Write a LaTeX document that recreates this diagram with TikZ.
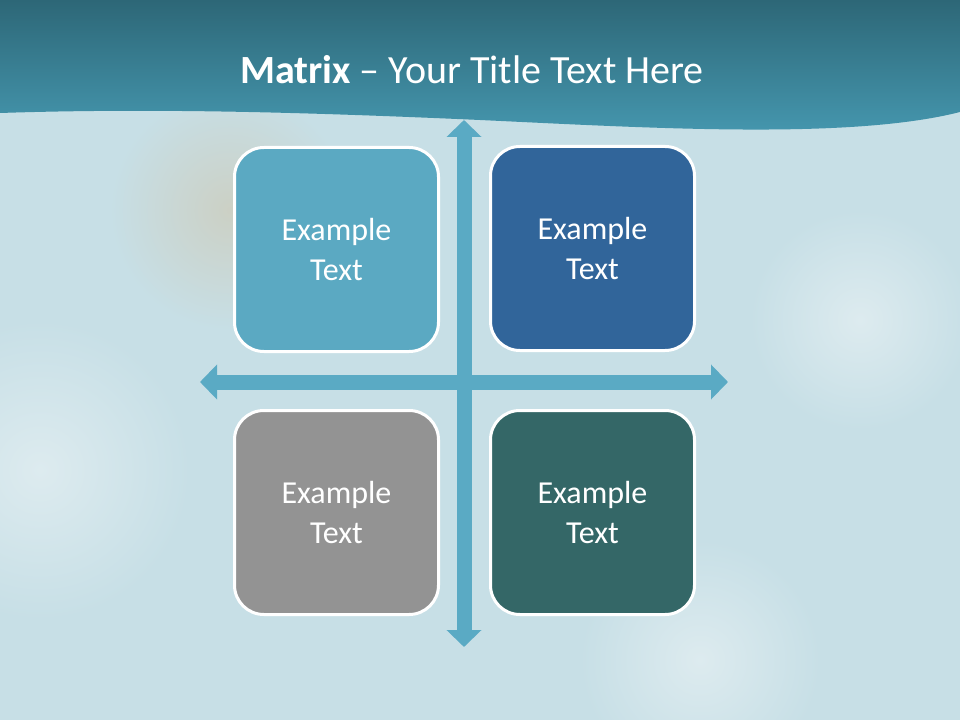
\documentclass[tikz,border=0pt]{standalone}
\usepackage{fontspec}
\setmainfont{Carlito}
\usetikzlibrary{arrows.meta, positioning, calc}
\definecolor{slidebg}{HTML}{C7DFE6}
\definecolor{slidepale}{HTML}{DDEBEF}
\definecolor{slidesand}{HTML}{CFC6AE}
\definecolor{bandtop}{HTML}{2D6777}
\definecolor{bandlow}{HTML}{4699B1}
\definecolor{axisblue}{HTML}{5AAAC4}
\definecolor{cellsky}{HTML}{5BA9C2}
\definecolor{cellnavy}{HTML}{31659A}
\definecolor{cellgrey}{HTML}{939393}
\definecolor{cellpine}{HTML}{346767}

\tikzset{
  cell/.style={draw=white, line width=2.25pt, rounded corners=22pt,
               minimum width=153pt, minimum height=153pt, inner sep=0pt,
               text=white, align=center,
               font=\fontsize{24}{30}\selectfont},
  axis/.style={axisblue, line width=11.25pt,
               {Triangle[width=25.5pt,length=12.75pt]}-{Triangle[width=25.5pt,length=12.75pt]}},
  patch/.style={inner color=#1, outer color=slidebg}
}

\begin{document}
\begin{tikzpicture}[x=0.75pt, y=-0.75pt]
  \useasboundingbox (0,0) rectangle (960,720);
  %% Background ─────────────────────────────────────────────────
  \fill[slidebg] (0,0) rectangle (960,720);
  \shade[patch=slidepale] (40,470) circle (150);
  \shade[patch=slidepale] (860,320) circle (110);
  \shade[patch=slidepale] (700,660) circle (120);
  \shade[patch=slidesand!60!slidebg] (230,210) circle (120);
  %% Title band ─────────────────────────────────────────────────
  \shade[top color=bandtop, bottom color=bandlow]
    (0,0) -- (960,0) -- (960,112)
    .. controls (850,140) and (650,128) .. (480,120)
    .. controls (300,112) and (150,108) .. (0,113) -- cycle;
  \node[text=white, font=\fontsize{30}{36}\selectfont] (title) at (472,70)
    {\textbf{Matrix} – Your Title Text Here};
  %% Axes ───────────────────────────────────────────────────────
  \coordinate (north) at (464,120);
  \coordinate (south) at (464,647);
  \coordinate (west)  at (200,382);
  \coordinate (east)  at (728,382);
  \draw[axis] (north) -- (south);
  \draw[axis] (west) -- (east);
  %% Quadrants ──────────────────────────────────────────────────
  \node[cell, fill=cellsky]  (q1) at (336.5,249.5) {Example\\Text};
  \node[cell, fill=cellnavy] (q2) at (592.5,248.5) {Example\\Text};
  \node[cell, fill=cellgrey] (q3) at (336.5,512.5) {Example\\Text};
  \node[cell, fill=cellpine] (q4) at (592.5,512.5) {Example\\Text};
\end{tikzpicture}
\end{document}
